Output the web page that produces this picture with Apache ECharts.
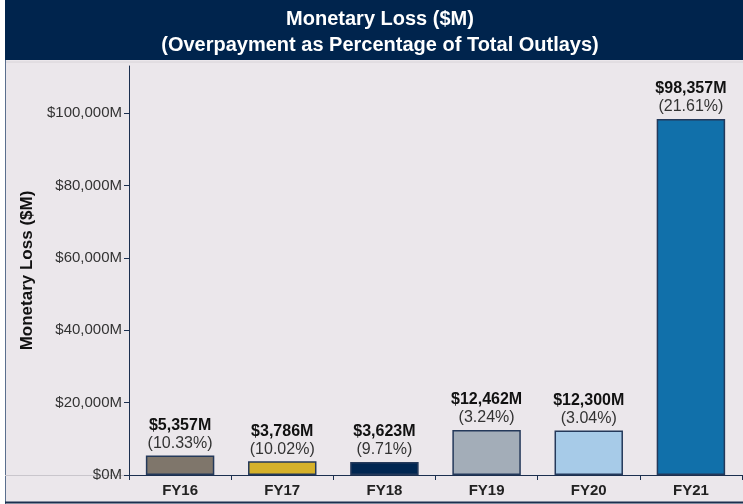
<!DOCTYPE html>
<html lang="en">
<head>
    <meta charset="UTF-8">
    <title>Monetary Loss</title>
    <script src="https://cdn.jsdelivr.net/npm/echarts@6/dist/echarts.min.js"></script>
    <style>
        body { margin: 0; background: #fff; }
        #container { width: 743px; height: 504px; }
    </style>
</head>
<body>
    <div id="container"></div>
    <script>
        var years = ['FY16', 'FY17', 'FY18', 'FY19', 'FY20', 'FY21'];
        var losses = [5357, 3786, 3623, 12462, 12300, 98357];
        var rates = ['10.33%', '10.02%', '9.71%', '3.24%', '3.04%', '21.61%'];
        var colors = ['#7f766b', '#d5b12a', '#002651', '#a3adb8', '#a7cbe8', '#1170aa'];
        var ticks = [0, 20000, 40000, 60000, 80000, 100000];

        var myChart = echarts.init(document.getElementById('container'));

        var data = losses.map(function (v, i) {
            return { value: v, itemStyle: { color: colors[i] } };
        });

        var option = {
            animation: false,
            textStyle: { fontFamily: 'Liberation Sans, Arial, sans-serif' },
            graphic: [
                // plot background
                { type: 'rect', z: -10, shape: { x: 5, y: 60, width: 738, height: 444 }, style: { fill: '#ebe7eb' } },
                // title band
                { type: 'rect', z: -5, shape: { x: 5, y: 0, width: 738, height: 60 }, style: { fill: '#00244d' } },
                { type: 'line', z: -4, shape: { x1: 5, y1: 62, x2: 743, y2: 62 }, style: { stroke: '#d8d4d8', lineWidth: 1 } },
                // frame
                { type: 'line', shape: { x1: 5.5, y1: 60, x2: 5.5, y2: 504 }, style: { stroke: '#5b6f8e', lineWidth: 1 } },
                { type: 'line', shape: { x1: 5, y1: 502.5, x2: 743, y2: 502.5 }, style: { stroke: '#1b2f4f', lineWidth: 2 } },
                { type: 'line', shape: { x1: 5, y1: 475.5, x2: 129, y2: 475.5 }, style: { stroke: '#c9c6cc', lineWidth: 1 } }
            ],
            title: {
                text: 'Monetary Loss ($M)\n(Overpayment as Percentage of Total Outlays)',
                left: 375,
                textAlign: 'center',
                top: 1,
                textStyle: { color: '#fff', fontSize: 20, fontWeight: 'bold', lineHeight: 26, fontFamily: 'Liberation Sans, Arial, sans-serif' }
            },
            grid: { left: 129, right: 1, top: 66, bottom: 29 },
            xAxis: {
                type: 'category',
                data: years,
                axisLine: { lineStyle: { color: '#1b2f4f', width: 1 } },
                axisTick: { show: true, length: 5, lineStyle: { color: '#1b2f4f' } },
                axisLabel: { color: '#222', fontSize: 15, fontWeight: 'bold', margin: 8 }
            },
            yAxis: {
                type: 'value',
                min: 0,
                max: 113000,
                interval: 20000,
                name: 'Monetary Loss ($M)',
                nameLocation: 'middle',
                nameGap: 93,
                nameTextStyle: { color: '#111', fontSize: 17, fontWeight: 'bold' },
                axisLine: { show: true, lineStyle: { color: '#1b2f4f', width: 1 } },
                axisTick: { show: true, length: 5, customValues: ticks, lineStyle: { color: '#1b2f4f' } },
                splitLine: { show: false },
                axisLabel: {
                    color: '#333',
                    fontSize: 15,
                    margin: 7,
                    customValues: ticks,
                    formatter: function (v) {
                        return '$' + v.toLocaleString('en-US') + 'M';
                    }
                }
            },
            series: [{
                type: 'bar',
                data: data,
                barWidth: '67%',
                itemStyle: { borderColor: '#24395a', borderWidth: 1.5 },
                label: {
                    show: true,
                    position: 'top',
                    distance: 3,
                    formatter: function (p) {
                        return '{v|$' + p.value.toLocaleString('en-US') + 'M}\n{p|(' + rates[p.dataIndex] + ')}';
                    },
                    rich: {
                        v: { fontSize: 16, fontWeight: 'bold', color: '#111', lineHeight: 18 },
                        p: { fontSize: 16, color: '#333', lineHeight: 18 }
                    }
                }
            }]
        };

        myChart.setOption(option);
    </script>
</body>
</html>
